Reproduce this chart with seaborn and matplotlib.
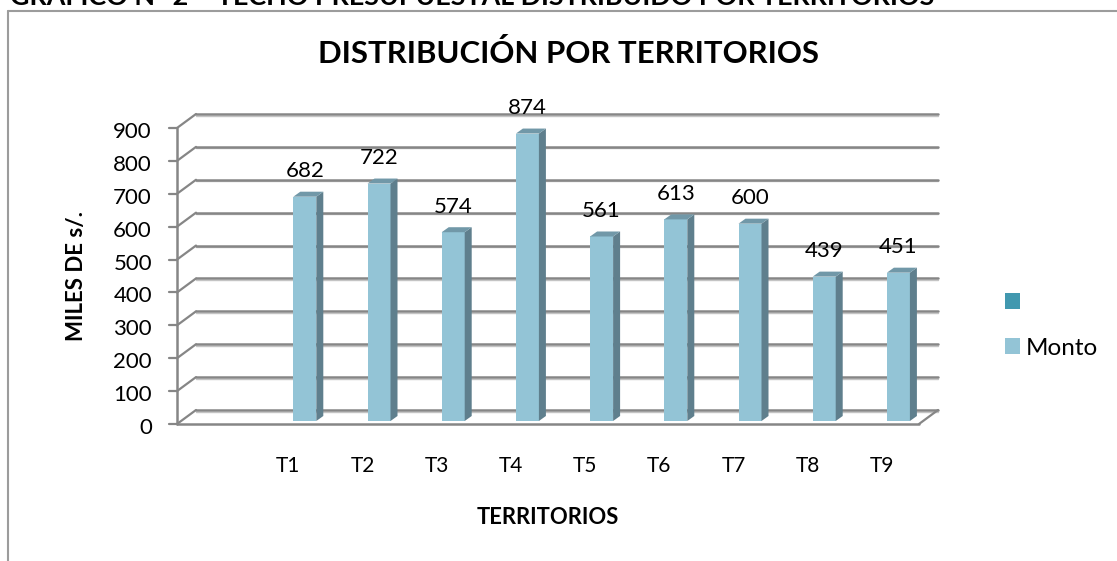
import matplotlib
matplotlib.use('Agg')

import numpy as np
import pandas as pd
import seaborn as sns
import matplotlib.pyplot as plt
from matplotlib.patches import Polygon
from matplotlib.transforms import ScaledTranslation

# values, first slot of the category axis is empty
categories = [' ', 'T1', 'T2', 'T3', 'T4', 'T5', 'T6', 'T7', 'T8', 'T9']
blank_series = [np.nan] * 10
monto = [np.nan, 682, 722, 574, 874, 561, 613, 600, 439, 451]
series_names = [' ', 'Monto']
y_ticks = [0, 100, 200, 300, 400, 500, 600, 700, 800, 900]

W, H = 1117, 561
GRID = '#868686'
SHADOW = '#C4C4C4'
FACE = '#93C4D6'
TEAL = '#4198AF'
SIDE = '#5F7F8D'
TOP = '#7198A8'

sns.set_theme(style='white')
plt.rcParams['font.family'] = ['Lato', 'DejaVu Sans']

df = pd.DataFrame({
    'territorio': categories * 2,
    'serie': [series_names[0]] * 10 + [series_names[1]] * 10,
    'monto': blank_series + monto,
})

fig = plt.figure(figsize=(W / 100, H / 100), dpi=100)
# front wall of the fake 3D box goes from x=177..919, y=128..424 in pixels
ax = fig.add_axes([177 / W, 1 - 424 / H, 742 / W, 296 / H])
ax.patch.set_alpha(0)

sns.barplot(data=df, x='territorio', y='monto', hue='serie', hue_order=series_names,
            palette=[TEAL, FACE], width=0.62, dodge=True, legend=False, ax=ax, zorder=4)
ax.set_xlim(-0.5, 9.5)
ax.set_ylim(0, 900)

px_x = 10 / 742  # one pixel in data units
px_y = 900 / 296

# depth of the box
depth_x = 19 * 10 / 742
depth_y = 14 * 900 / 296

for tick in y_ticks:
    ax.plot([-0.5 + depth_x, 9.5 + depth_x], [tick + depth_y - 1.6 * px_y] * 2, color=SHADOW, lw=1.0,
            clip_on=False, zorder=1)
    ax.plot([-0.5, -0.5 + depth_x], [tick, tick + depth_y], color=GRID, lw=1.6, clip_on=False, zorder=1)
    ax.plot([-0.5 + depth_x, 9.5 + depth_x], [tick + depth_y, tick + depth_y], color=GRID, lw=1.8,
            clip_on=False, zorder=1)
    ax.plot([-0.5 - 8 * px_x, -0.5], [tick, tick], color=GRID, lw=1.6, clip_on=False, zorder=1)

ax.plot([-0.5, -0.5], [0, 900], color=GRID, lw=1.8, clip_on=False, zorder=2)
ax.plot([-0.5, 9.5], [0, 0], color=GRID, lw=1.8, clip_on=False, zorder=2)
ax.plot([9.5, 9.5 + depth_x], [0, depth_y], color=GRID, lw=1.6, clip_on=False, zorder=2)

# bars stand a bit inside the floor, add the side and top faces
side_x = 7 * px_x
side_y = 5 * px_y
for patch in ax.patches:
    h = patch.get_height()
    if not np.isfinite(h) or h == 0:
        continue
    x0 = patch.get_x() + 5 * px_x
    x1 = x0 + patch.get_width()
    y0 = 3 * px_y
    y1 = y0 + h
    patch.set_visible(False)
    ax.add_patch(Polygon([(x0, y0), (x1, y0), (x1, y1), (x0, y1)], closed=True, fc=FACE, ec='none',
                         zorder=5, clip_on=False))
    ax.add_patch(Polygon([(x1, y0), (x1 + side_x, y0 + side_y), (x1 + side_x, y1 + side_y), (x1, y1)],
                         closed=True, fc=SIDE, ec='none', zorder=5, clip_on=False))
    ax.add_patch(Polygon([(x0, y1), (x1, y1), (x1 + side_x, y1 + side_y), (x0 + side_x, y1 + side_y)],
                         closed=True, fc=TOP, ec='none', zorder=5, clip_on=False))
    ax.annotate(f'{h:.0f}', xy=((x0 + x1) / 2, y1), xytext=(0, 18.5), textcoords='offset points',
                ha='center', va='center', fontsize=16, color='black', zorder=6, annotation_clip=False)

sns.despine(ax=ax, left=True, bottom=True)
ax.set_yticks(y_ticks)
ax.set_yticklabels([str(t) for t in y_ticks], fontsize=16, color='black')
ax.tick_params(axis='y', length=0, pad=18)
ax.tick_params(axis='x', length=0, pad=22.7, labelsize=15, labelcolor='black')
ax.set_xlabel('')
ax.set_ylabel('')

# y labels sit 2px lower than the ticks in the original
nudge = ScaledTranslation(0, -2 / 100, fig.dpi_scale_trans)
for lbl in ax.get_yticklabels():
    lbl.set_transform(lbl.get_transform() + nudge)

fig.text(77 / W, 1 - 276 / H, 'MILES DE s/.', rotation=90, ha='center', va='center',
         fontsize=16, fontweight='bold', color='black')
fig.text(548 / W, 1 - 517 / H, 'TERRITORIOS', ha='center', va='center',
         fontsize=15.8, fontweight='bold', color='black')
fig.text(569 / W, 1 - 54 / H, 'DISTRIBUCIÓN POR TERRITORIOS', ha='center', va='center',
         fontsize=22.4, fontweight='bold', color='black')
# heading of the page above the chart, cut by the top of the picture
fig.text(10 / W, 1 - 5 / H, 'GRAFICO N° 2 – TECHO PRESUPUESTAL DISTRIBUIDO POR TERRITORIOS', ha='left',
         va='baseline', fontsize=19.4, fontweight='bold', color='black')

# chart border, only left and top are inside the picture
fig.add_artist(plt.Line2D([8 / W, 8 / W], [0, 1 - 10.5 / H], color='#9C9C9C', lw=1.5))
fig.add_artist(plt.Line2D([8 / W, 1], [1 - 10.5 / H, 1 - 10.5 / H], color='#9C9C9C', lw=1.5))

handles = [plt.Rectangle((0, 0), 1, 1, fc=c, ec='none') for c in [TEAL, FACE]]
fig.legend(handles, series_names, loc='center left', bbox_to_anchor=(1005 / W, 1 - 325.5 / H), frameon=False,
           fontsize=17.5, handlelength=0.62, handleheight=0.62, handletextpad=0.25, labelspacing=0.99,
           borderaxespad=0, borderpad=0, labelcolor='black')

fig.savefig('out.png', dpi=100)
